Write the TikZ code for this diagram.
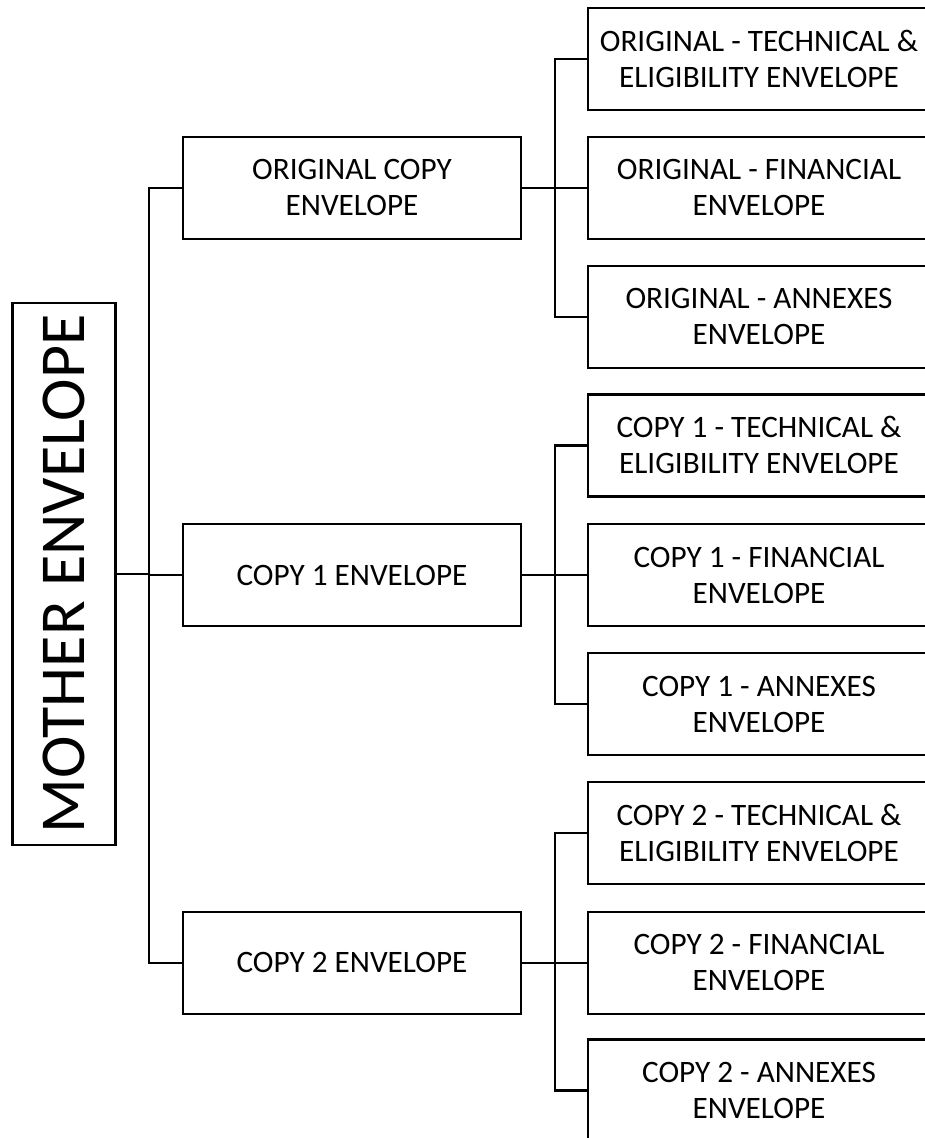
\documentclass[tikz,border=0pt]{standalone}
\usepackage{fontspec}
\setmainfont{Carlito}
\usepackage{graphicx}

\tikzset{
  envbox/.style={draw, line width=2.2pt, minimum width=338pt, minimum height=102pt,
    inner sep=0pt, align=center, font=\fontsize{31.2}{36}\selectfont},
  subbox/.style={envbox, minimum width=342pt},
  mainbox/.style={draw, line width=2.2pt, minimum width=103pt, minimum height=542pt,
    inner sep=0pt, font=\fontsize{64}{70}\selectfont},
  link/.style={line width=2.2pt}
}

\begin{document}
\begin{tikzpicture}[x=1pt, y=-1pt]
            \useasboundingbox (0,0) rectangle (924,1138);

            \node[mainbox] (mother) at (64,574) {\rotatebox{90}{MOTHER ENVELOPE}};

            \node[envbox] (orig)  at (352,187.8) {ORIGINAL COPY\\ENVELOPE};
            \node[envbox] (copyA) at (352,575.2) {COPY 1 ENVELOPE};
            \node[envbox] (copyB) at (352,962.6) {COPY 2 ENVELOPE};

            \node[subbox] (origTech) at (759,59)     {ORIGINAL - TECHNICAL \&\\ELIGIBILITY ENVELOPE};
            \node[subbox] (origFin)  at (759,187.8)  {ORIGINAL - FINANCIAL\\ENVELOPE};
            \node[subbox] (origAnx)  at (759,316.6)  {ORIGINAL - ANNEXES\\ENVELOPE};

            \node[subbox] (copyATech) at (759,445.4) {COPY 1 - TECHNICAL \&\\ELIGIBILITY ENVELOPE};
            \node[subbox] (copyAFin)  at (759,575.2) {COPY 1 - FINANCIAL\\ENVELOPE};
            \node[subbox] (copyAAnx)  at (759,704)   {COPY 1 - ANNEXES\\ENVELOPE};

            \node[subbox] (copyBTech) at (759,832.8)  {COPY 2 - TECHNICAL \&\\ELIGIBILITY ENVELOPE};
            \node[subbox] (copyBFin)  at (759,962.6)  {COPY 2 - FINANCIAL\\ENVELOPE};
            \node[subbox] (copyBAnx)  at (759,1090.4) {COPY 2 - ANNEXES\\ENVELOPE};

            % mother to the three copies
            \draw[link] (mother.east) -- ++(32,0) |- (orig.west);
            \draw[link] (mother.east) -- ++(32,0) |- (copyA.west);
            \draw[link] (mother.east) -- ++(32,0) |- (copyB.west);

            % original copy
            \draw[link] (orig.east) -- ++(33,0) |- (origTech.west);
            \draw[link] (orig.east) -- (origFin.west);
            \draw[link] (orig.east) -- ++(33,0) |- (origAnx.west);

            % copy 1
            \draw[link] (copyA.east) -- ++(33,0) |- (copyATech.west);
            \draw[link] (copyA.east) -- (copyAFin.west);
            \draw[link] (copyA.east) -- ++(33,0) |- (copyAAnx.west);

            % copy 2
            \draw[link] (copyB.east) -- ++(33,0) |- (copyBTech.west);
            \draw[link] (copyB.east) -- (copyBFin.west);
            \draw[link] (copyB.east) -- ++(33,0) |- (copyBAnx.west);

        \end{tikzpicture}
\end{document}
